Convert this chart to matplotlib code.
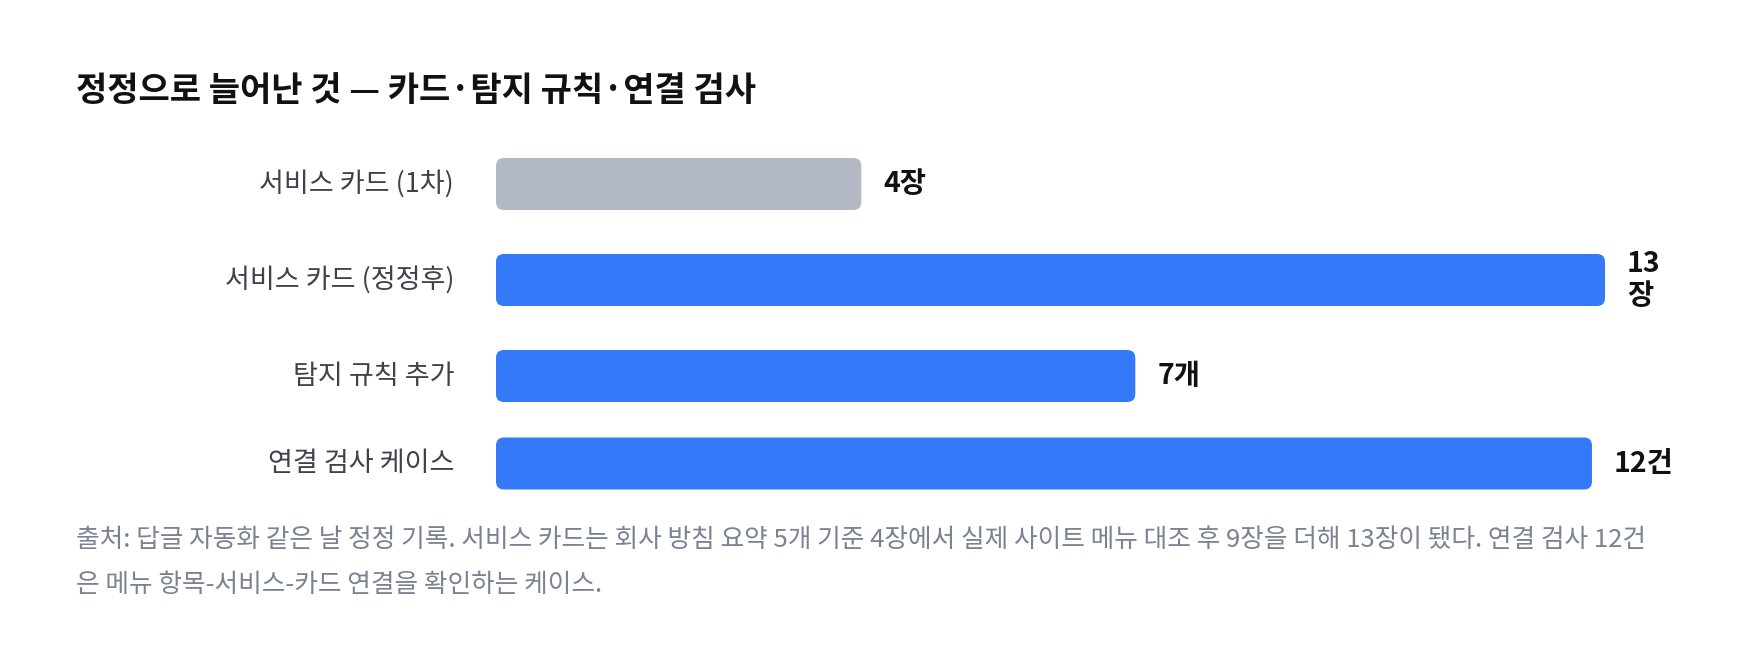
import numpy as np
import matplotlib
matplotlib.use("Agg")
import matplotlib.pyplot as plt
from matplotlib.patches import FancyBboxPatch
from matplotlib.transforms import offset_copy

plt.rcParams['font.family'] = ['Noto Sans CJK KR', 'DejaVu Sans']

# Data
categories = ["서비스 카드 (1차)", "서비스 카드 (정정후)", "탐지 규칙 추가", "연결 검사 케이스"]
values = [4, 13, 7, 12]
units = ["장", "장", "개", "건"]
colors = ["#b3b9c4", "#3479f8", "#3479f8", "#3479f8"]

title = "정정으로 늘어난 것 — 카드·탐지 규칙·연결 검사"
note_lines = [
    "출처: 답글 자동화 같은 날 정정 기록. 서비스 카드는 회사 방침 요약 5개 기준 4장에서 실제 사이트 메뉴 대조 후 9장을 더해 13장이 됐다. 연결 검사 12건",
    "은 메뉴 항목-서비스-카드 연결을 확인하는 케이스.",
]

W, H = 1760, 666
fig = plt.figure(figsize=(W / 100, H / 100), dpi=100)
fig.patch.set_facecolor("white")

# bar track: 496px .. 1605px, 91.33 px per unit
px_per_unit = 91.33
track_left, track_right = 496, 1605
xmax = (track_right - track_left) / px_per_unit

ax = fig.add_axes([track_left / W, 0, (track_right - track_left) / W, 1])
ax.set_xlim(0, xmax)
ax.set_ylim(H, 0)
ax.axis("off")

# row layout (pixels from top); rows whose label wraps are taller
shown = np.minimum(values, xmax)
wraps = [v > xmax for v in values]
row_h = [104.5 if w else 87.5 for w in wraps]
centers = []
y = 184 - row_h[0] / 2
for h in row_h:
    centers.append(y + h / 2)
    y += h

bar_h = 52
bars = ax.barh(centers, shown, height=bar_h, left=0, color=colors)
r = 8 / px_per_unit
for p, c in zip(bars.patches, colors):
    x0, y0, w, h = p.get_x(), p.get_y(), p.get_width(), p.get_height()
    p.remove()
    ax.add_patch(FancyBboxPatch((x0, y0), w, h,
                                boxstyle=f"round,pad=0,rounding_size={r}",
                                mutation_aspect=px_per_unit,
                                facecolor=c, edgecolor="none"))

lab_tr = offset_copy(ax.transData, fig=fig, x=-42, y=0, units="dots")
val_tr = offset_copy(ax.transData, fig=fig, x=22, y=0, units="dots")
for yc, cat, v, s, u, w in zip(centers, categories, values, shown, units, wraps):
    ax.text(0, yc, cat, transform=lab_tr, ha="right", va="center",
            fontsize=19.5, color="#3d424b")
    label = f"{v}\n{u}" if w else f"{v}{u}"
    ax.text(s, yc, label, transform=val_tr, ha="left", va="center",
            fontsize=20.5, fontweight="bold", color="#111111", linespacing=1.2)

fig.text(76 / W, 1 - 90 / H, title, ha="left", va="center",
         fontsize=24.5, fontweight="bold", color="#111111")
for i, line in enumerate(note_lines):
    fig.text(76 / W, 1 - (540 + 45 * i) / H, line, ha="left", va="center",
             fontsize=18.5, color="#7b8292")

fig.savefig("out.png", dpi=100, facecolor="white")
